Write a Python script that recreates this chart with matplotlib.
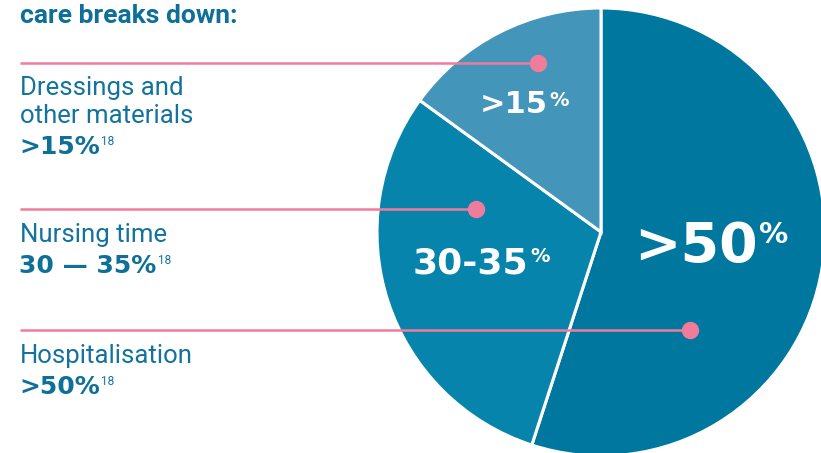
import matplotlib.pyplot as plt

# Data
categories = ['Hospitalisation', 'Nursing time', 'Dressings and\nother materials']
shares = [55, 30, 15]
slice_labels = ['>50', '30-35', '>15']
side_values = ['>50%', '30 — 35%', '>15%']
ref_note = '18'
title = 'care breaks down:'

colors = ['#00779F', '#0784AB', '#4395BA']
text_col = '#13739E'
bold_col = '#0E6F98'
pink = '#F07C9B'

plt.rcParams['font.family'] = ['Roboto', 'DejaVu Sans']

fig = plt.figure(figsize=(8.21, 4.53), dpi=100)
ax = fig.add_axes([0, 0, 1, 1])

# pie (y axis is flipped, so counterclock=True draws clockwise on screen)
ax.pie(shares, colors=colors, startangle=270, counterclock=True,
       center=(601, 232), radius=224, frame=True,
       wedgeprops=dict(edgecolor='white', linewidth=2.2))
ax.set_xlim(0, 821)
ax.set_ylim(453, 0)
ax.axis('off')

# labels inside slices: (x, baseline y, main size, % size)
inner = [(634, 262, 40, 21), (413, 273, 26, 14), (480, 113, 22, 14)]
for lab, (x, y, s1, s2) in zip(slice_labels, inner):
    t = ax.text(x, y, lab, color='white', fontsize=s1, fontweight='bold',
                family='DejaVu Sans', va='baseline', ha='left', zorder=5)
    ax.annotate('%', xy=(1.0, 0.98), xycoords=t, color='white', fontsize=s2,
                fontweight='bold', family='DejaVu Sans', va='top', ha='left',
                xytext=(1, 0), textcoords='offset points', zorder=5)

# title
ax.text(20, 23, title, color=bold_col, fontsize=19, fontweight='bold',
        va='baseline', ha='left')

# side labels with pink leader lines
lines_y = [330, 209, 63]
dots_x = [690, 476, 538]
name_base = [363, 242, 123]   # baseline of the last line of the name
val_base = [394, 273, 154]
for cat, val, ly, dx, nb, vb in zip(categories, side_values, lines_y, dots_x,
                                     name_base, val_base):
    ax.plot([20, dx], [ly, ly], color=pink, lw=1.8, zorder=6,
            solid_capstyle='butt')
    ax.plot(dx, ly, 'o', color=pink, ms=11.5, zorder=7)
    ax.text(20, nb, cat, color=text_col, fontsize=18.5, va='baseline',
            ha='left', linespacing=1.2)
    t = ax.text(19, vb, val, color=bold_col, fontsize=18,
                fontweight='bold', family='DejaVu Sans', va='baseline',
                ha='left')
    ax.annotate(ref_note, xy=(1.0, 0.98), xycoords=t, color=text_col,
                fontsize=8.5, va='top', ha='left', xytext=(1, 0),
                textcoords='offset points')

fig.savefig('out.png', dpi=100)
